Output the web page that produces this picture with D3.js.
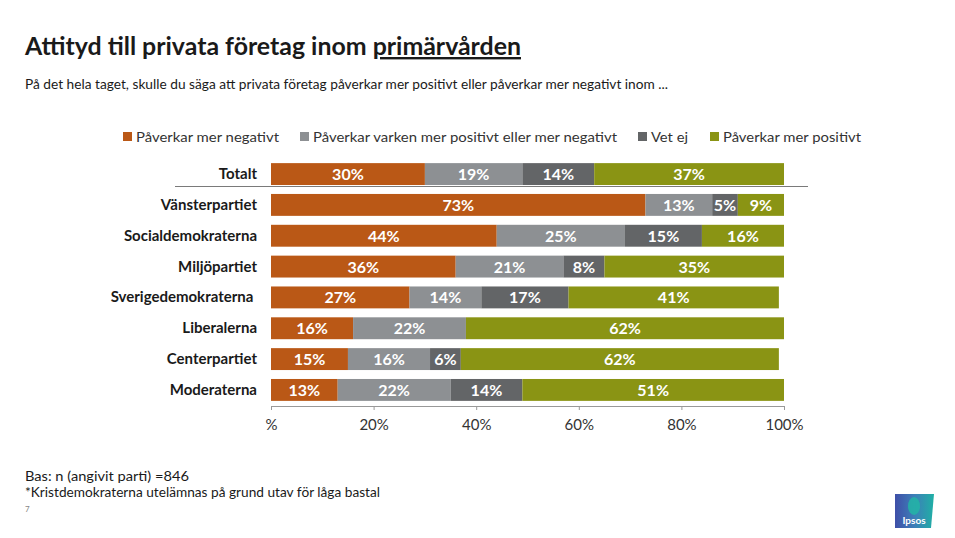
<!DOCTYPE html>
<html><head><meta charset="utf-8">
<script src="https://cdn.jsdelivr.net/npm/d3@7"></script>
<style>body{margin:0;background:#fff}svg{display:block}text{font-family:Lato,"Open Sans",sans-serif}</style>
</head><body><svg id="c" width="955" height="538"></svg>
<script>
const categories = ["Totalt","Vänsterpartiet","Socialdemokraterna","Miljöpartiet","Sverigedemokraterna ","Liberalerna","Centerpartiet","Moderaterna"];
const seriesNames = ["Påverkar mer negativt","Påverkar varken mer positivt eller mer negativt","Vet ej","Påverkar mer positivt"];
const negativ = [30,73,44,36,27,16,15,13];
const varken  = [19,13,25,21,14,22,16,22];
const vetEj   = [14,5,15,8,17,0,6,14];
const positiv = [37,9,16,35,41,62,62,51];
const tickValues = [0,20,40,60,80,100];
const tickLabels = ["%","20%","40%","60%","80%","100%"];
const colors = ["#BA5816","#8D9093","#636567","#8A9414"];

const svg = d3.select("#c");
const series = [negativ, varken, vetEj, positiv];

// Title
const title = svg.append("text").attr("x",25).attr("y",55).attr("font-size",24).attr("font-weight","bold").attr("fill","#1a1a1a")
  .attr("textLength",496).attr("lengthAdjust","spacingAndGlyphs");
title.append("tspan").text("Attityd till privata företag inom ");
title.append("tspan").attr("text-decoration","underline").text("primärvården");
svg.append("text").attr("x",25).attr("y",89).attr("font-size",13).attr("fill","#1a1a1a")
  .attr("textLength",643).attr("lengthAdjust","spacingAndGlyphs")
  .text("På det hela taget, skulle du säga att privata företag påverkar mer positivt eller påverkar mer negativt inom ...");

// Legend
const legX = [123,300,638,710], legW=[143,304,37,138];
seriesNames.forEach((n,i)=>{
  svg.append("rect").attr("x",legX[i]).attr("y",132).attr("width",9).attr("height",9).attr("fill",colors[i]);
  svg.append("text").attr("x",legX[i]+13).attr("y",141.5).attr("font-size",14).attr("fill","#333")
    .attr("textLength",legW[i]).attr("lengthAdjust","spacingAndGlyphs").text(n);
});

const x = d3.scaleLinear().domain([0,100]).range([271,784]);
const y = d3.scaleBand().domain(categories).range([158.5,405.5]).paddingInner(0.29).paddingOuter(0.15);

const stack = categories.map((c,ci)=>{
  let acc=0; return series.map((s,si)=>{const v=s[ci]; const o={c,si,x0:acc,x1:acc+v,v}; acc+=v; return o;});
}).flat();

const g = svg.append("g");
g.selectAll("rect.bar").data(stack).join("rect").attr("class","bar")
  .attr("x",d=>x(d.x0)).attr("width",d=>x(d.x1)-x(d.x0))
  .attr("y",d=>y(d.c)).attr("height",y.bandwidth()).attr("fill",d=>colors[d.si]);
g.selectAll("text.lab").data(stack.filter(d=>d.v>0)).join("text").attr("class","lab")
  .attr("x",d=>(x(d.x0)+x(d.x1))/2).attr("y",d=>y(d.c)+y.bandwidth()/2+6)
  .attr("text-anchor","middle").attr("font-size",16).attr("font-weight","bold").attr("fill","#fff")
  .text(d=>d.v+"%");

// category labels
svg.selectAll("text.cat").data(categories).join("text").attr("class","cat")
  .attr("x",257).attr("y",d=>y(d)+y.bandwidth()/2+5).attr("text-anchor","end")
  .attr("font-size",15).attr("font-weight","bold").attr("fill","#1a1a1a").style("white-space","pre")
  .text(d=>d);

// separator under Totalt
svg.append("line").attr("x1",175).attr("x2",808).attr("y1",186.5).attr("y2",186.5).attr("stroke","#7a7a7a").attr("stroke-width",1.2);

// axis
const axis = d3.axisBottom(x).tickValues(tickValues).tickFormat((d,i)=>tickLabels[i]).tickSize(4).tickSizeOuter(0);
const ax = svg.append("g").attr("transform","translate(0,406)").call(axis);
ax.select(".domain").attr("stroke","#999");
ax.selectAll(".tick line").attr("stroke","#999");
ax.selectAll(".tick text").attr("font-size",15).attr("fill","#333").attr("y",0).attr("dy",24).attr("font-family","Lato,sans-serif");

// footer
svg.append("text").attr("x",25).attr("y",481).attr("font-size",13.5).attr("fill","#1a1a1a").attr("textLength",164).attr("lengthAdjust","spacingAndGlyphs").text("Bas: n (angivit parti) =846");
svg.append("text").attr("x",25).attr("y",497).attr("font-size",13.5).attr("fill","#1a1a1a").attr("textLength",355).attr("lengthAdjust","spacingAndGlyphs").text("*Kristdemokraterna utelämnas på grund utav för låga bastal");
svg.append("text").attr("x",25).attr("y",512).attr("font-size",8).attr("fill","#888").text("7");

// Ipsos logo
const defs = svg.append("defs");
const gr = defs.append("linearGradient").attr("id","lg").attr("x1","0").attr("x2","1").attr("y1","0").attr("y2","0");
gr.append("stop").attr("offset","0").attr("stop-color","#3f4fa8");
gr.append("stop").attr("offset","0.5").attr("stop-color","#3d7fb8");
gr.append("stop").attr("offset","1").attr("stop-color","#1fb0a5");
svg.append("path").attr("d","M895,494 L934,494 L931,528 L895,528 Z").attr("fill","url(#lg)");
svg.append("ellipse").attr("cx",914).attr("cy",506).attr("rx",6).attr("ry",9).attr("fill","#22b5a6").attr("opacity",0.85);
svg.append("text").attr("x",914).attr("y",524).attr("text-anchor","middle").attr("font-size",10).attr("font-weight","bold").attr("fill","#fff").text("Ipsos");
</script></body></html>
